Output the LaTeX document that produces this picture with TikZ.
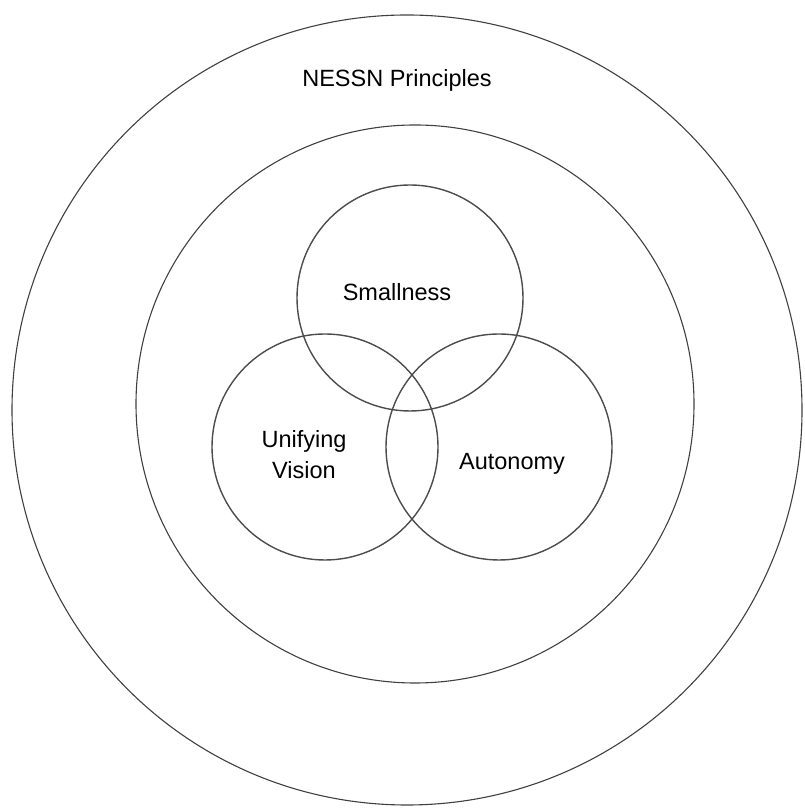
\documentclass[tikz,border=0pt]{standalone}
\usepackage{fontspec}
\setmainfont{Liberation Sans}
\begin{document}
\begin{tikzpicture}[x=1pt,y=1pt,
  ring/.style={circle,draw=black!75,line width=1.1pt,inner sep=0pt},
  petal/.style={circle,draw=black!70,line width=1.4pt,inner sep=0pt,minimum size=226pt},
  lbl/.style={font=\fontsize{23.5}{31}\selectfont,align=center,inner sep=0pt}]
\useasboundingbox (0,0) rectangle (804,810);
\node[ring,minimum size=790pt] (outer) at (407,400) {};
\node[ring,minimum size=558pt] (inner) at (415,406) {};
\node[petal] (small) at (410,512) {};
\node[petal] (unify) at (325,363) {};
\node[petal] (auto) at (499,363) {};
\node[lbl] (title) at (397,730) {NESSN Principles};
\node[lbl] (tsmall) at (397,518) {Smallness};
\node[lbl] (tunify) at (304,355) {Unifying\\Vision};
\node[lbl] (tauto) at (512,346) {Autonomy};
\end{tikzpicture}
\end{document}
